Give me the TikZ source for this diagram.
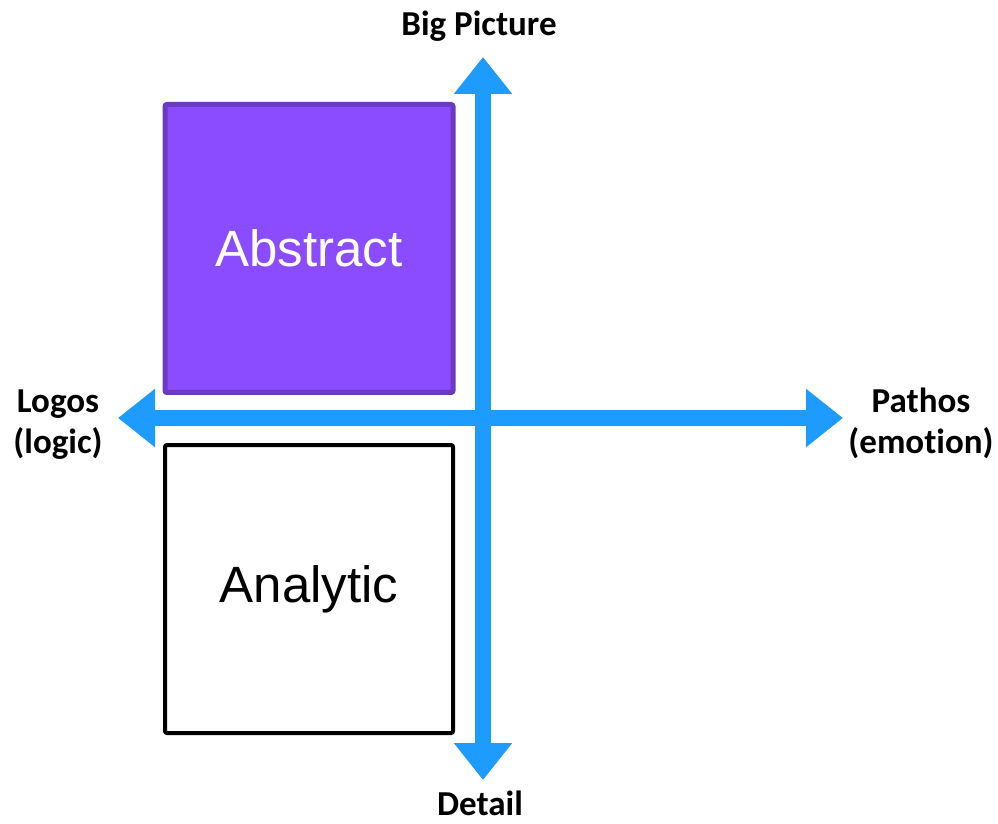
\documentclass[tikz,border=0pt]{standalone}
\usepackage{fontspec}
\setmainfont{Liberation Sans}
\newfontfamily\labelfont[Ligatures=NoCommon]{Carlito}
\usetikzlibrary{arrows.meta}
\definecolor{axisblue}{HTML}{1E9BFF}
\definecolor{boxpurple}{HTML}{8B4CFF}
\definecolor{boxedge}{HTML}{6A3AC0}
\tikzset{
  axis/.style={line width=16pt, draw=axisblue,
    {Triangle[width=56pt,length=37pt]}-{Triangle[width=56pt,length=37pt]}},
  quad/.style={minimum width=288pt, minimum height=288pt, inner sep=0pt,
    rounded corners=2pt, font=\fontsize{51pt}{60pt}\selectfont},
  axislabel/.style={font=\labelfont\bfseries\fontsize{35pt}{41pt}\selectfont,
    align=center, inner sep=0pt, anchor=base}
}
\begin{document}
\begin{tikzpicture}[x=1pt,y=1pt]
  \useasboundingbox (0,0) rectangle (998,823);
  % quadrant boxes
  \node[quad, fill=boxpurple, draw=boxedge, line width=5pt, text=white] (abstract) at (309,574.5) {Abstract};
  \node[quad, fill=white, draw=black, line width=4pt] (analytic) at (309,234) {Analytic};
  % axis end points
  \coordinate (top) at (483,766);
  \coordinate (bottom) at (483,43);
  \coordinate (left) at (118,405);
  \coordinate (right) at (843,405);
  \draw[axis] (bottom) -- (top);
  \draw[axis] (left) -- (right);
  % axis labels (base = baseline of the last line)
  \node[axislabel] (big) at (479,787) {Big Picture};
  \node[axislabel] (detail) at (480,8) {Detail};
  \node[axislabel] (logos) at (58,370) {Logos\\(logic)};
  \node[axislabel] (pathos) at (921,370) {Pathos\\(emotion)};
\end{tikzpicture}
\end{document}
